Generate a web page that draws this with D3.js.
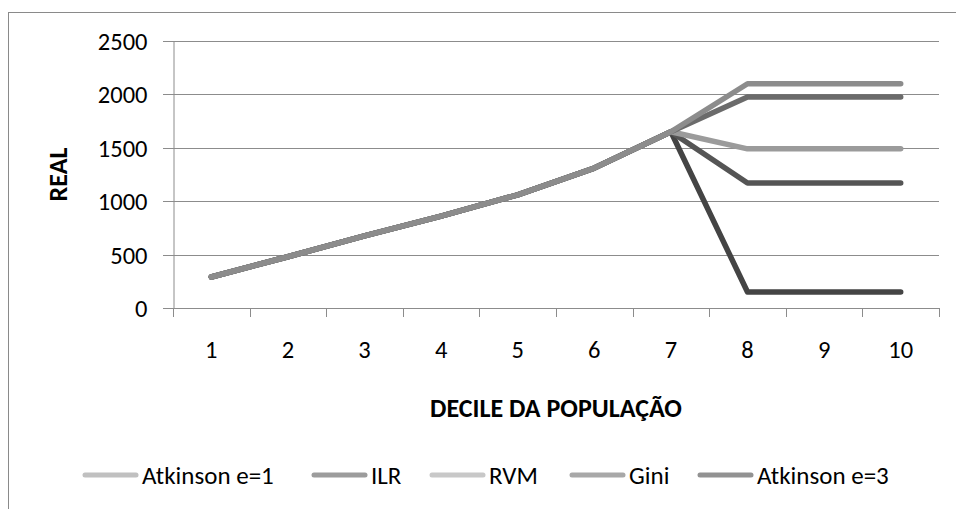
<!DOCTYPE html>
<html><head><meta charset="utf-8">
<script src="https://cdnjs.cloudflare.com/ajax/libs/d3/7.8.5/d3.min.js"></script>
<style>
html,body{margin:0;padding:0;background:#fff;}
svg{display:block;}
text{font-family:Carlito,Calibri,Lato,"Open Sans",sans-serif;fill:#000;}
</style></head>
<body>
<svg id="chart" width="956" height="509"></svg>
<script>
const deciles = [1,2,3,4,5,6,7,8,9,10];
const seriesNames = ["Atkinson e=1","ILR","RVM","Gini","Atkinson e=3"];
const atkinson1 = [290,480,675,860,1060,1310,1650,2100,2100,2100];
const ilr       = [290,480,675,860,1060,1310,1650,1170,1170,1170];
const rvm       = [290,480,675,860,1060,1310,1650,1490,1490,1490];
const gini      = [290,480,675,860,1060,1310,1650,1975,1975,1975];
const atkinson3 = [290,480,675,860,1060,1310,1650,150,150,150];
const yTicks = [0,500,1000,1500,2000,2500];
const xTitle = "DECILE DA POPULAÇÃO";
const yTitle = "REAL";

const lineColors   = ["#8c8c8c","#555555","#9b9b9b","#6b6b6b","#444444"];
const legendColors = ["#c0c0c0","#9c9c9c","#c8c8c8","#a8a8a8","#929292"];
const drawOrder = [4,1,2,3,0];

const seriesValues = [atkinson1, ilr, rvm, gini, atkinson3];
const svg = d3.select("#chart");

// outer chart-area border
svg.append("rect").attr("x",8.5).attr("y",12.5).attr("width",1200).attr("height",1200)
  .attr("fill","none").attr("stroke","#8a8a8a").attr("stroke-width",1);

const pL = 173, pR = 939, pT = 41, pB = 308;
const x = d3.scaleBand().domain(deciles).range([pL,pR]).padding(0);
const y = d3.scaleLinear().domain([0,2500]).range([pB,pT]);
const gridColor = "#8c8c8c";

// gridlines
svg.append("g").selectAll("line").data(yTicks.filter(d=>d>0)).join("line")
  .attr("x1",pL-10).attr("x2",pR)
  .attr("y1",d=>Math.round(y(d))+0.5).attr("y2",d=>Math.round(y(d))+0.5)
  .attr("stroke",gridColor).attr("stroke-width",1);

// y axis
const yAxis = svg.append("g").attr("transform",`translate(${pL+0.5},0)`)
  .call(d3.axisLeft(y).tickValues(yTicks).tickSize(10).tickPadding(16).tickFormat(d3.format("d")));
yAxis.select(".domain").attr("stroke",gridColor);
yAxis.selectAll(".tick line").attr("stroke",gridColor);
yAxis.selectAll(".tick").attr("transform",d=>`translate(0,${Math.round(y(d))+0.5})`);
yAxis.selectAll("text").style("font-size","24.5px").attr("fill","#000").attr("dy","0.34em");

// x axis line and ticks at boundaries
svg.append("line").attr("x1",pL-10).attr("x2",pR).attr("y1",pB+0.5).attr("y2",pB+0.5)
  .attr("stroke",gridColor);
const bounds = deciles.map(d=>x(d)).concat([pR]);
svg.append("g").selectAll("line").data(bounds).join("line")
  .attr("x1",d=>Math.round(d)+0.5).attr("x2",d=>Math.round(d)+0.5)
  .attr("y1",pB).attr("y2",pB+9).attr("stroke",gridColor);
svg.append("g").selectAll("text").data(deciles).join("text")
  .attr("x",d=>x(d)+x.bandwidth()/2).attr("y",358).attr("text-anchor","middle")
  .style("font-size","24.5px").text(d=>d);

// titles
svg.append("text").attr("x",(pL+pR)/2).attr("y",417).attr("text-anchor","middle")
  .style("font-size","26px").style("font-weight","bold").text(xTitle);
svg.append("text").attr("transform",`translate(67,${(pT+pB)/2}) rotate(-90)`)
  .attr("text-anchor","middle").style("font-size","26px").style("font-weight","bold").text(yTitle);

// lines
const line = d3.line().x((d,i)=>x(deciles[i])+x.bandwidth()/2).y(d=>y(d));
drawOrder.forEach(si=>{
  svg.append("path").datum(seriesValues[si]).attr("d",line)
    .attr("fill","none").attr("stroke",lineColors[si]).attr("stroke-width",5.5)
    .attr("stroke-linecap","round").attr("stroke-linejoin","round");
});

// legend
const legendX = [83,312,430,570,698];
const lg = svg.append("g");
seriesNames.forEach((n,i)=>{
  lg.append("line").attr("x1",legendX[i]+2).attr("x2",legendX[i]+53)
    .attr("y1",475).attr("y2",475).attr("stroke",legendColors[i]).attr("stroke-width",5)
    .attr("stroke-linecap","round");
  lg.append("text").attr("x",legendX[i]+59).attr("y",484).style("font-size","25px").text(n);
});
</script>
</body></html>
